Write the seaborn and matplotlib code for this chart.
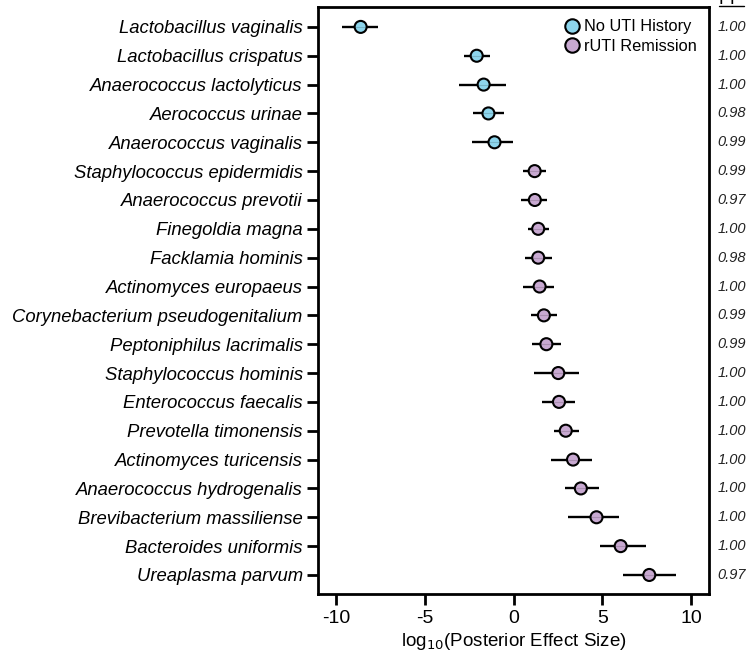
import matplotlib
matplotlib.use("Agg")
import matplotlib.pyplot as plt
from matplotlib.lines import Line2D
import seaborn as sns
import pandas as pd
import numpy as np

species = [
    "Lactobacillus vaginalis", "Lactobacillus crispatus", "Anaerococcus lactolyticus",
    "Aerococcus urinae", "Anaerococcus vaginalis", "Staphylococcus epidermidis",
    "Anaerococcus prevotii", "Finegoldia magna", "Facklamia hominis",
    "Actinomyces europaeus", "Corynebacterium pseudogenitalium", "Peptoniphilus lacrimalis",
    "Staphylococcus hominis", "Enterococcus faecalis", "Prevotella timonensis",
    "Actinomyces turicensis", "Anaerococcus hydrogenalis", "Brevibacterium massiliense",
    "Bacteroides uniformis", "Ureaplasma parvum",
]
effect = [-8.6, -2.07, -1.68, -1.41, -1.07, 1.19, 1.2, 1.39, 1.39, 1.47,
          1.71, 1.85, 2.52, 2.56, 2.94, 3.35, 3.79, 4.67, 6.03, 7.64]
lower = [-9.64, -2.8, -3.07, -2.3, -2.33, 0.51, 0.4, 0.83, 0.64, 0.51,
         0.96, 1.03, 1.17, 1.62, 2.3, 2.11, 2.88, 3.09, 4.88, 6.16]
upper = [-7.64, -1.32, -0.41, -0.55, -0.04, 1.81, 1.9, 2.02, 2.19, 2.28,
         2.47, 2.66, 3.69, 3.45, 3.69, 4.44, 4.82, 5.93, 7.47, 9.15]
group = ["No UTI History"] * 5 + ["rUTI Remission"] * 15
pp = ["1.00", "1.00", "1.00", "0.98", "0.99", "0.99", "0.97", "1.00", "0.98", "1.00",
      "0.99", "0.99", "1.00", "1.00", "1.00", "1.00", "1.00", "1.00", "1.00", "0.97"]

df = pd.DataFrame({"species": species, "effect": effect, "lower": lower,
                   "upper": upper, "group": group, "pp": pp})
df["pos"] = np.arange(len(df))

sns.set_style("white")
plt.rcParams["font.family"] = ["Liberation Sans", "DejaVu Sans"]
plt.rcParams["text.color"] = "black"
plt.rcParams["axes.labelcolor"] = "black"
plt.rcParams["xtick.color"] = "black"
plt.rcParams["ytick.color"] = "black"

fig = plt.figure(figsize=(7.49, 6.59), dpi=100)
ax = fig.add_axes([318 / 749, 1 - 594 / 659, (709 - 318) / 749, (594 - 7) / 659])

ax.hlines(df["pos"], df["lower"], df["upper"], color="black", lw=1.7, zorder=1)
palette = {"No UTI History": "#8dd5ec", "rUTI Remission": "#c8a9d1"}
sns.scatterplot(data=df, x="effect", y="pos", hue="group", palette=palette,
                s=75, edgecolor="black", linewidth=1.5, ax=ax, zorder=3)
ax.hlines(df["pos"], df["effect"] - 0.3, df["effect"] + 0.3, color="black",
          lw=0.8, alpha=0.15, zorder=4)

ax.set_xlim(-11, 11)
ax.set_ylim(19.66, -0.69)
ax.set_yticks(df["pos"])
ax.set_yticklabels(df["species"], fontstyle="italic", fontsize=13.3)
ax.set_xticks([-10, -5, 0, 5, 10])
ax.set_xticklabels(["-10", "-5", "0", "5", "10"], fontsize=14)
ax.set_ylabel("")
ax.set_xlabel("log$_{10}$(Posterior Effect Size)", fontsize=13.5, labelpad=3)
for s in ax.spines.values():
    s.set_linewidth(2)
    s.set_color("black")
ax.tick_params(axis="both", direction="out", length=8, width=2, color="black",
               left=True, bottom=True)
ax.tick_params(axis="y", pad=3)

for i, v in enumerate(df["pp"]):
    ax.text(1.022, i, v, transform=ax.get_yaxis_transform(), fontstyle="italic",
            fontsize=10.5, va="center", ha="left", color="#222222")
fig.text(719 / 749, 1 - 4 / 659, "PP", fontsize=13, va="baseline", ha="left")
fig.add_artist(Line2D([719 / 749, 744 / 749], [1 - 5.5 / 659, 1 - 5.5 / 659],
                      color="black", lw=1.0, transform=fig.transFigure))

leg = ax.legend(loc="upper right", bbox_to_anchor=(1 - 9 / 391, 1 - 9 / 587),
                frameon=False, fontsize=11.8, handletextpad=0.15,
                borderaxespad=0.0, labelspacing=0.3, markerscale=1.2,
                handlelength=1.2, borderpad=0.2)
for t in leg.get_texts():
    t.set_color("black")

fig.savefig("out.png", dpi=100)
